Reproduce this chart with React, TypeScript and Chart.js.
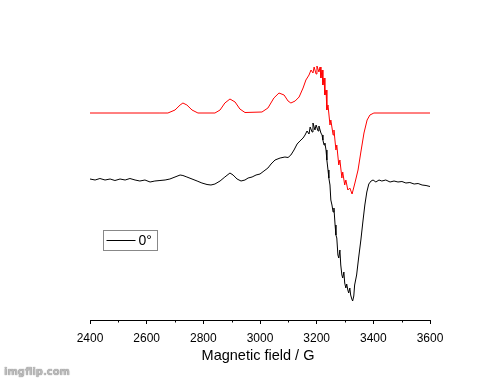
import React, { useEffect, useRef } from "react";
import { Chart, registerables } from "chart.js";

Chart.register(...registerables);

// Simulated spectrum (red)
const simField = [2400, 2647, 2675, 2700, 2718, 2728, 2742, 2760, 2781, 2841, 2859, 2876, 2894, 2912, 2929, 2947, 3007, 3028, 3049, 3067, 3085, 3099, 3109, 3124, 3138, 3152, 3162, 3173, 3180, 3187, 3191, 3198, 3201, 3208, 3212, 3215, 3219, 3222, 3226, 3229, 3233, 3236, 3240, 3247, 3250, 3258, 3261, 3268, 3271, 3278, 3282, 3289, 3292, 3299, 3303, 3310, 3317, 3325, 3335, 3346, 3356, 3367, 3378, 3388, 3402, 3600];
const simSignal = [206, 206, 206, 209, 214, 216, 214, 209, 206, 206, 209, 216, 220, 217, 210, 206.5, 207, 211, 221, 226, 224, 218, 216, 218, 222, 231, 239, 244, 249, 246, 252, 245, 253, 247, 252, 241, 249, 234, 241, 224, 229, 209, 214, 194, 199, 184, 189, 169, 174, 154, 159, 141, 147, 134, 139, 129, 131, 125, 136, 149, 167, 186, 199, 204, 206, 206];

// Experimental spectrum (black), 0°
const expField = [2400, 2418, 2435, 2453, 2471, 2488, 2506, 2524, 2541, 2559, 2576, 2594, 2612, 2629, 2647, 2665, 2682, 2700, 2718, 2728, 2742, 2760, 2778, 2795, 2813, 2827, 2841, 2859, 2876, 2894, 2905, 2919, 2933, 2947, 2958, 2972, 2986, 3000, 3014, 3028, 3039, 3053, 3071, 3088, 3099, 3109, 3120, 3131, 3141, 3152, 3159, 3166, 3173, 3177, 3184, 3187, 3194, 3198, 3205, 3208, 3215, 3219, 3222, 3226, 3229, 3233, 3236, 3240, 3243, 3247, 3250, 3254, 3258, 3261, 3265, 3268, 3271, 3275, 3278, 3282, 3285, 3289, 3292, 3296, 3299, 3303, 3306, 3310, 3313, 3317, 3320, 3324, 3327, 3331, 3334, 3341, 3348, 3356, 3363, 3370, 3377, 3384, 3392, 3399, 3409, 3420, 3430, 3444, 3459, 3473, 3487, 3501, 3515, 3529, 3544, 3558, 3572, 3586, 3600];
const expSignal = [140, 139, 140.5, 139, 140, 138.5, 140, 139, 140.5, 139, 138, 139, 137, 138, 138.5, 139, 140, 142, 144, 143.5, 142, 140, 138, 136, 134.5, 134, 135, 138, 142, 146, 144, 140, 138, 139, 141, 142, 144, 145, 148, 151, 155, 159, 161, 162, 161.5, 164, 169, 175, 178, 181, 184, 188, 185, 192, 187, 196, 189, 194, 188, 193, 186, 184, 179, 174, 176, 169, 159, 149, 141, 134, 119, 114, 107, 111, 94, 84, 81, 64, 61, 69, 54, 44, 41, 47, 36, 31, 35, 29, 26, 31, 24, 20, 18, 23, 34, 44, 61, 79, 97, 114, 127, 135, 138, 139, 137, 139, 138, 139, 137, 138, 137, 137.5, 136, 136.5, 135, 135.5, 134, 133.5, 132.5];

const xTicks = [2400, 2600, 2800, 3000, 3200, 3400, 3600];
const xMinorTicks = [2500, 2700, 2900, 3100, 3300, 3500];
const legendLabel = "0°";
const axisTitle = "Magnetic field / G";

const FONT = "'Liberation Sans', Arial, sans-serif";
const toPoints = (xs: number[], ys: number[]) => xs.map((x, i) => ({ x, y: ys[i] }));

const extrasPlugin = {
  id: "extras",
  afterDraw(chart: any) {
    const { ctx, chartArea, scales } = chart;
    const x = scales.x;
    ctx.save();
    ctx.strokeStyle = "#000";
    ctx.lineWidth = 1;
    // minor ticks
    xMinorTicks.forEach((v) => {
      const px = Math.round(x.getPixelForValue(v)) + 0.5;
      ctx.beginPath();
      ctx.moveTo(px, chartArea.bottom);
      ctx.lineTo(px, chartArea.bottom + 2.5);
      ctx.stroke();
    });
    // axis title
    ctx.fillStyle = "#000";
    ctx.font = `14.5px ${FONT}`;
    ctx.textAlign = "center";
    ctx.textBaseline = "middle";
    ctx.fillText(axisTitle, (chartArea.left + chartArea.right) / 2 - 2, chartArea.bottom + 35.5);
    // legend box
    const lx = chartArea.left + 13.5;
    const ly = 230.5;
    ctx.strokeStyle = "#888";
    ctx.strokeRect(lx, ly, 54, 20);
    ctx.strokeStyle = "#000";
    ctx.beginPath();
    ctx.moveTo(lx + 3, ly + 10);
    ctx.lineTo(lx + 32, ly + 10);
    ctx.stroke();
    ctx.font = `14px ${FONT}`;
    ctx.textAlign = "left";
    ctx.fillText(legendLabel, lx + 35, ly + 10.5);
    ctx.restore();
  },
};

export default function App() {
  const ref = useRef<HTMLCanvasElement | null>(null);
  useEffect(() => {
    document.body.style.margin = "0";
    const chart = new Chart(ref.current as HTMLCanvasElement, {
      type: "line",
      data: {
        datasets: [
          {
            label: "sim",
            data: toPoints(simField, simSignal),
            borderColor: "#ff0000",
            borderWidth: 1,
            pointRadius: 0,
            tension: 0,
          },
          {
            label: legendLabel,
            data: toPoints(expField, expSignal),
            borderColor: "#000000",
            borderWidth: 1,
            pointRadius: 0,
            tension: 0,
          },
        ],
      },
      options: {
        animation: false,
        responsive: false,
        layout: { padding: { left: 90, right: 70, top: 20, bottom: 0 } },
        plugins: { legend: { display: false }, tooltip: { enabled: false } },
        scales: {
          x: {
            type: "linear",
            min: 2400,
            max: 3600,
            afterBuildTicks: (axis: any) => {
              axis.ticks = xTicks.map((v) => ({ value: v }));
            },
            afterFit: (axis: any) => {
              axis.height = 63;
            },
            ticks: {
              color: "#000",
              padding: 7,
              font: { family: FONT, size: 12 },
              callback: (v: any) => String(v),
              maxRotation: 0,
            },
            grid: { drawOnChartArea: false, tickLength: 4, color: "#000", tickColor: "#000" },
            border: { color: "#000", width: 1 },
          },
          y: { display: false, min: -1, max: 299 },
        },
      },
      plugins: [extrasPlugin],
    });
    return () => chart.destroy();
  }, []);
  return (
    <div style={{ position: "relative", width: 500, height: 383, background: "#fff" }}>
      <canvas ref={ref} width={500} height={383} />
      <span
        style={{
          position: "absolute",
          left: 4,
          top: 366,
          fontFamily: "'DejaVu Sans', sans-serif",
          fontWeight: "bold",
          fontSize: 10,
          color: "#bbb",
          textShadow: "0 0 1px #666",
        }}
      >
        imgflip.com
      </span>
    </div>
  );
}
